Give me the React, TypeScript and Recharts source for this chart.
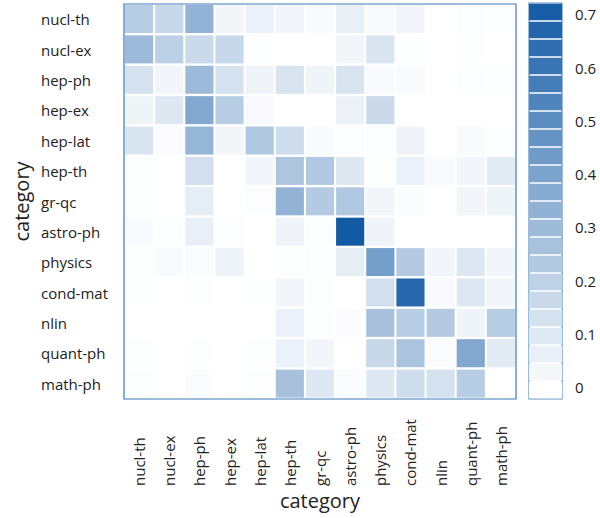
import { BarChart, Bar, XAxis, YAxis, Cell, ReferenceArea } from 'recharts'

const CATEGORIES = [
  'nucl-th', 'nucl-ex', 'hep-ph', 'hep-ex', 'hep-lat', 'hep-th', 'gr-qc',
  'astro-ph', 'physics', 'cond-mat', 'nlin', 'quant-ph', 'math-ph',
]

// one row per category (read left to right across the columns)
const NUCL_TH = [0.22, 0.17, 0.33, 0.04, 0.06, 0.04, 0.02, 0.07, 0.02, 0.04, 0, 0.01, 0.01]
const NUCL_EX = [0.3, 0.2, 0.16, 0.17, 0.01, 0, 0, 0.04, 0.12, 0.005, 0, 0.005, 0]
const HEP_PH = [0.13, 0.04, 0.3, 0.13, 0.05, 0.12, 0.05, 0.12, 0.02, 0.02, 0, 0.01, 0.01]
const HEP_EX = [0.05, 0.1, 0.38, 0.22, 0.02, 0, 0, 0.06, 0.16, 0, 0, 0, 0]
const HEP_LAT = [0.12, 0.015, 0.32, 0.04, 0.24, 0.15, 0.02, 0.01, 0.01, 0.05, 0, 0.02, 0.01]
const HEP_TH = [0.01, 0, 0.14, 0, 0.04, 0.25, 0.24, 0.1, 0.005, 0.06, 0.02, 0.04, 0.09]
const GR_QC = [0.005, 0, 0.08, 0, 0.01, 0.33, 0.23, 0.24, 0.04, 0.015, 0, 0.04, 0.05]
const ASTRO_PH = [0.02, 0.01, 0.07, 0.01, 0, 0.05, 0.01, 0.72, 0.05, 0, 0, 0, 0]
const PHYSICS = [0.005, 0.02, 0.015, 0.05, 0, 0.005, 0.01, 0.08, 0.42, 0.23, 0.04, 0.1, 0.04]
const COND_MAT = [0.005, 0, 0.005, 0, 0.005, 0.04, 0.005, 0, 0.14, 0.66, 0.02, 0.1, 0.04]
const NLIN = [0, 0, 0, 0, 0, 0.06, 0.005, 0.015, 0.27, 0.22, 0.23, 0.05, 0.22]
const QUANT_PH = [0.005, 0, 0.005, 0, 0.005, 0.06, 0.04, 0, 0.17, 0.26, 0.015, 0.38, 0.09]
const MATH_PH = [0.005, 0, 0.015, 0, 0.005, 0.27, 0.1, 0.015, 0.1, 0.15, 0.13, 0.22, 0]

const ROWS = [
  NUCL_TH, NUCL_EX, HEP_PH, HEP_EX, HEP_LAT, HEP_TH, GR_QC,
  ASTRO_PH, PHYSICS, COND_MAT, NLIN, QUANT_PH, MATH_PH,
]

const LEGEND_TICKS = [0, 0.1, 0.2, 0.3, 0.4, 0.5, 0.6, 0.7]
const LEGEND_MIN = -0.0206
const LEGEND_MAX = 0.7225
const BAND_COUNT = 22

const MAX_VALUE = 0.72
const LOW = [255, 255, 255]
const HIGH = [19, 90, 165]

function shade(v: number) {
  const t = Math.max(0, Math.min(1, v / MAX_VALUE))
  const c = LOW.map((l, i) => Math.round(l + (HIGH[i] - l) * t))
  return `rgb(${c.join(',')})`
}

const cellData = CATEGORIES.map((name) => {
  const row: Record<string, string | number> = { name }
  CATEGORIES.forEach((_, c) => {
    row['c' + c] = 1
  })
  return row
})

// legend: stacked bands measured from LEGEND_MIN, so the axis is shifted by -LEGEND_MIN
const span = LEGEND_MAX - LEGEND_MIN
const bandStep = span / BAND_COUNT
const legendRow: Record<string, string | number> = { k: 'legend' }
for (let i = 0; i < BAND_COUNT; i++) legendRow['b' + i] = bandStep
const legendData = [legendRow]

const TEXT = '#222'
const FRAME = '#3d78b8'

function XTick(props: any) {
  const { x, y, payload } = props
  const label = CATEGORIES[Math.floor(payload.value)]
  const ty = y + 87
  return (
    <text x={x} y={ty} transform={`rotate(-90 ${x} ${ty})`} textAnchor="start"
      dominantBaseline="central" fontSize={15} fill={TEXT}>
      {label}
    </text>
  )
}

function YTick(props: any) {
  const { x, y, payload } = props
  return (
    <text x={x - 83} y={y} textAnchor="start" dominantBaseline="central" fontSize={15} fill={TEXT}>
      {payload.value}
    </text>
  )
}

function CellShape(props: any) {
  const { x, y, width, height, fill } = props
  return <rect x={x + 1} y={y + 1} width={Math.max(0, width - 2)} height={Math.max(0, height - 2)} fill={fill} />
}

function BandShape(props: any) {
  const { x, y, width, height, fill } = props
  return <rect x={x} y={y + 0.75} width={width} height={Math.max(0, height - 1.5)} fill={fill} />
}

export default function App() {
  return (
    <div style={{ position: 'absolute', left: 0, top: 0, width: 600, height: 518, fontFamily: "'Open Sans', sans-serif", background: '#fff' }}>
      <div style={{ position: 'absolute', left: 0, top: 0 }}>
        <BarChart width={600} height={518} data={cellData} layout="vertical"
          margin={{ top: 4, right: 84, bottom: 0, left: 0 }} barCategoryGap={0} barGap={0}>
          <XAxis type="number" domain={[0, 13]} ticks={CATEGORIES.map((_, i) => i + 0.5)}
            height={119} interval={0} axisLine={false} tickLine={false} tickSize={0} tickMargin={0}
            tick={XTick}
            label={{ value: 'category', position: 'insideBottom', offset: 10, fontSize: 20, fill: TEXT }} />
          <YAxis type="category" dataKey="name" width={124} interval={0} axisLine={false}
            tickLine={false} tickSize={0} tickMargin={0} tick={YTick}
            label={{
              content: (p: any) => {
                const vb = p.viewBox
                const cx = vb.x + 21
                const cy = vb.y + vb.height / 2
                return (
                  <text x={cx} y={cy} transform={`rotate(-90 ${cx} ${cy})`} textAnchor="middle"
                    dominantBaseline="central" fontSize={20} fill={TEXT}>
                    category
                  </text>
                )
              },
            }} />
          <ReferenceArea x1={0} x2={13} fill="none" stroke={FRAME} strokeWidth={1.2} ifOverflow="visible" />
          {CATEGORIES.map((col, c) => (
            <Bar key={col} dataKey={'c' + c} stackId="m" isAnimationActive={false} shape={CellShape}>
              {ROWS.map((vals, r) => (
                <Cell key={r} fill={shade(vals[c])} />
              ))}
            </Bar>
          ))}
        </BarChart>
      </div>
      <div style={{ position: 'absolute', left: 0, top: 0 }}>
        <BarChart width={600} height={518} data={legendData} barCategoryGap={0}
          margin={{ top: 3, right: 0, bottom: 119, left: 529 }}>
          <XAxis dataKey="k" hide />
          <YAxis orientation="right" type="number" domain={[0, span]}
            ticks={LEGEND_TICKS.map((t) => t - LEGEND_MIN)}
            tickFormatter={(v: number) => String(Math.round((v + LEGEND_MIN) * 10) / 10)}
            allowDataOverflow width={38} axisLine={false} tickLine={false} tickSize={0} tickMargin={13}
            tick={{ fontSize: 15, fill: TEXT }} />
          <ReferenceArea y1={0} y2={span} fill="none" stroke="#5a8fc8" strokeWidth={1.2} ifOverflow="visible" />
          {Array.from({ length: BAND_COUNT }, (_, i) => (
            <Bar key={i} dataKey={'b' + i} stackId="legend" isAnimationActive={false}
              fill={shade(LEGEND_MIN + (i + 0.5) * bandStep)} shape={BandShape} />
          ))}
        </BarChart>
      </div>
    </div>
  )
}
